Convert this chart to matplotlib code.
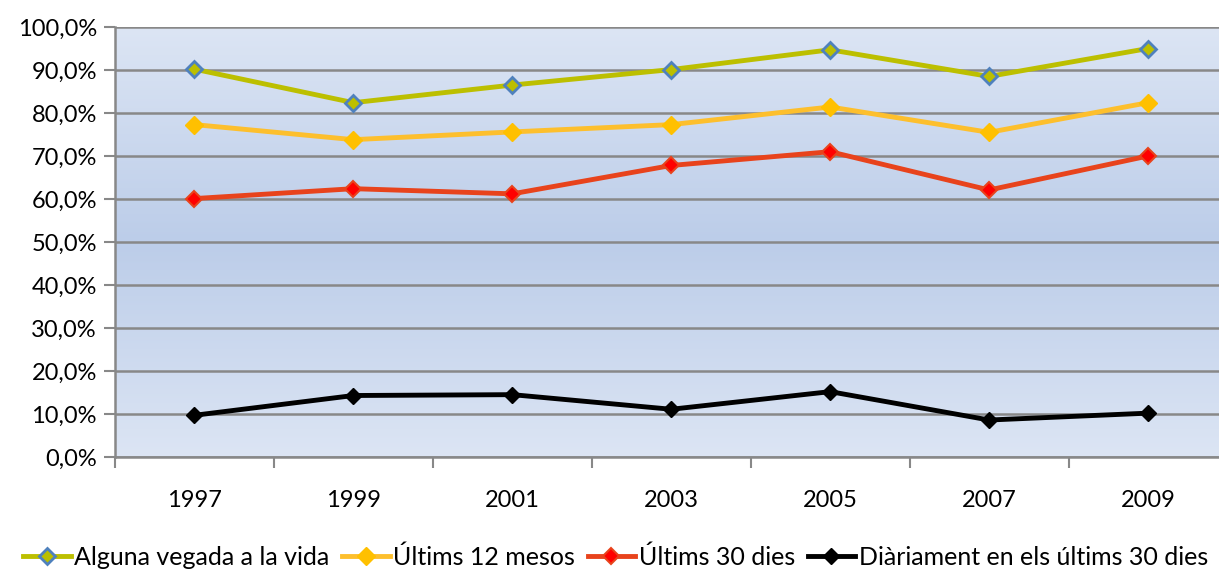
import numpy as np
import matplotlib
matplotlib.use("Agg")
import matplotlib.pyplot as plt
from matplotlib.colors import LinearSegmentedColormap
from matplotlib.ticker import FuncFormatter, FixedLocator

years = ["1997", "1999", "2001", "2003", "2005", "2007", "2009"]
alguna_vegada = [90.2, 82.4, 86.5, 90.1, 94.7, 88.5, 95.0]
ultims_12 = [77.3, 73.8, 75.6, 77.3, 81.4, 75.5, 82.4]
ultims_30 = [60.1, 62.4, 61.2, 67.8, 71.0, 62.1, 70.0]
diariament = [9.7, 14.3, 14.5, 11.1, 15.2, 8.6, 10.2]

labels = ["Alguna vegada a la vida", "Últims 12 mesos", "Últims 30 dies",
          "Diàriament en els últims 30 dies"]

plt.rcParams['font.family'] = ['Lato', 'DejaVu Sans']

W, H = 1219, 572
fig = plt.figure(figsize=(W / 100, H / 100), dpi=100)
ax = fig.add_axes([115 / W, 1 - 457 / H, (1227.5 - 115) / W, (457 - 27) / H])

# gradient background of the plot area
grad = np.abs(np.linspace(-1, 1, 256))[:, None]
cmap = LinearSegmentedColormap.from_list("bg", ["#bccde9", "#dce5f4"])
ax.imshow(grad, aspect="auto", cmap=cmap, extent=(-0.5, 6.5, 0, 100),
          zorder=0, interpolation="bilinear")

x = np.arange(len(years))
ax.plot(x, alguna_vegada, color="#bcbf00", lw=3.5, marker="D", ms=8,
        mfc="#bcbf00", mec="#4f81bd", mew=2, label=labels[0], zorder=3)
ax.plot(x, ultims_12, color="#fdbf2d", lw=3.5, marker="D", ms=9,
        mfc="#ffc000", mec="#ffc000", label=labels[1], zorder=3)
ax.plot(x, ultims_30, color="#e8431c", lw=3.5, marker="D", ms=8,
        mfc="#ff0000", mec="#e8431c", mew=1.5, label=labels[2], zorder=3)
ax.plot(x, diariament, color="black", lw=3.5, marker="D", ms=8,
        mfc="black", mec="black", label=labels[3], zorder=3)

ax.set_xlim(-0.5, 6.5)
ax.set_ylim(0, 100)
ax.set_yticks(np.arange(0, 101, 10))
ax.yaxis.set_major_formatter(FuncFormatter(lambda v, p: f"{v:.1f}%".replace(".", ",")))
ax.grid(axis="y", color="#888888", lw=1.8, zorder=1)

ax.set_xticks(x)
ax.set_xticklabels(years)
ax.xaxis.set_minor_locator(FixedLocator(np.arange(-0.5, 7, 1)))
ax.tick_params(axis="x", which="major", length=0, pad=24, labelsize=17)
ax.tick_params(axis="x", which="minor", length=8, width=1.5, color="#888888")
ax.tick_params(axis="y", length=8, width=1.5, color="#888888", labelsize=17, pad=5)

for s in ["top", "right"]:
    ax.spines[s].set_visible(False)
for s in ["left", "bottom"]:
    ax.spines[s].set_color("#888888")
    ax.spines[s].set_linewidth(1.8)

fig.legend(loc="center", bbox_to_anchor=(0.505, 1 - 557 / H), ncol=4,
           frameon=False, fontsize=18, handlelength=1.9, handletextpad=0.15,
           columnspacing=0.5, borderaxespad=0)

fig.savefig("out.png", dpi=100)
